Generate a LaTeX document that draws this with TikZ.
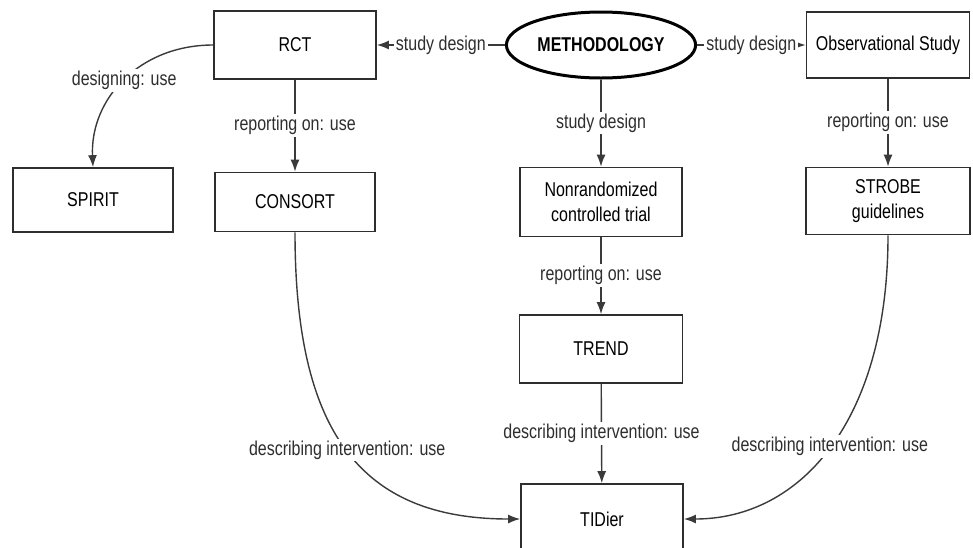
\documentclass[tikz,border=0pt]{standalone}
\usepackage{fontspec}
\setmainfont{Liberation Sans}[FakeStretch=0.8]
\usetikzlibrary{shapes.geometric,arrows.meta}

\definecolor{linegray}{HTML}{3A3A3A}
\definecolor{boxgray}{HTML}{2E2E2E}

\begin{document}
\begin{tikzpicture}[x=1pt,y=1pt,
    box/.style={draw=boxgray,line width=1.7pt,inner sep=2pt,align=center,
        font=\fontsize{20}{25}\selectfont},
    link/.style={draw=linegray,line width=1.4pt,-{Latex[length=12pt,width=9pt]}},
    lbl/.style={fill=white,text=boxgray,inner sep=2pt,
        font=\fontsize{20}{24}\selectfont}]

    \useasboundingbox (0,0) rectangle (973,-547);

    \node[ellipse,draw,line width=3pt,minimum width=153pt,minimum height=66pt,
        font=\bfseries\fontsize{20}{24}\selectfont] (method) at (601,-45) {METHODOLOGY};
    \node[box,minimum width=162pt,minimum height=68pt] (rct) at (295,-45) {RCT};
    \node[box,minimum width=163pt,minimum height=66pt] (obs) at (888,-45) {Observational Study};

    \node[box,minimum width=160pt,minimum height=64pt] (spirit) at (93,-200) {SPIRIT};
    \node[box,minimum width=160pt,minimum height=59pt] (consort) at (295,-202) {CONSORT};
    \node[box,minimum width=162pt,minimum height=69pt] (nrct) at (601,-202)
        {Nonrandomized\\controlled trial};
    \node[box,minimum width=164pt,minimum height=67pt] (strobe) at (888,-201)
        {STROBE\\guidelines};

    \node[box,minimum width=163pt,minimum height=68pt] (trend) at (601,-349) {TREND};
    \node[box,minimum width=162pt,minimum height=70pt] (tidier) at (602,-519) {TIDier};

    \draw [link] (method) -- (rct) node [lbl,midway] {study design};
    \draw [link] (method) -- (obs) node [lbl,midway] {study design};
    \draw [link] (method) -- (nrct) node [lbl,midway] {study design};

    \draw [link] (rct.west) .. controls +(-74,0) and +(-3,68) .. (spirit.north)
        node [lbl,pos=0.5] {designing: use};
    \draw [link] (rct) -- (consort) node [lbl,midway] {reporting on: use};
    \draw [link] (obs) -- (strobe) node [lbl,midway] {reporting on: use};
    \draw [link] (nrct) -- (trend) node [lbl,midway] {reporting on: use};

    \draw [link] (consort.south) .. controls +(0,-198) and +(-161,0) .. (tidier.west)
        node [lbl,pos=0.5] {describing intervention: use};
    \draw [link] (trend) -- (tidier) node [lbl,midway] {describing intervention: use};
    \draw [link] (strobe.south) .. controls +(0,-185) and +(117,0) .. (tidier.east)
        node [lbl,pos=0.5] {describing intervention: use};
\end{tikzpicture}
\end{document}
